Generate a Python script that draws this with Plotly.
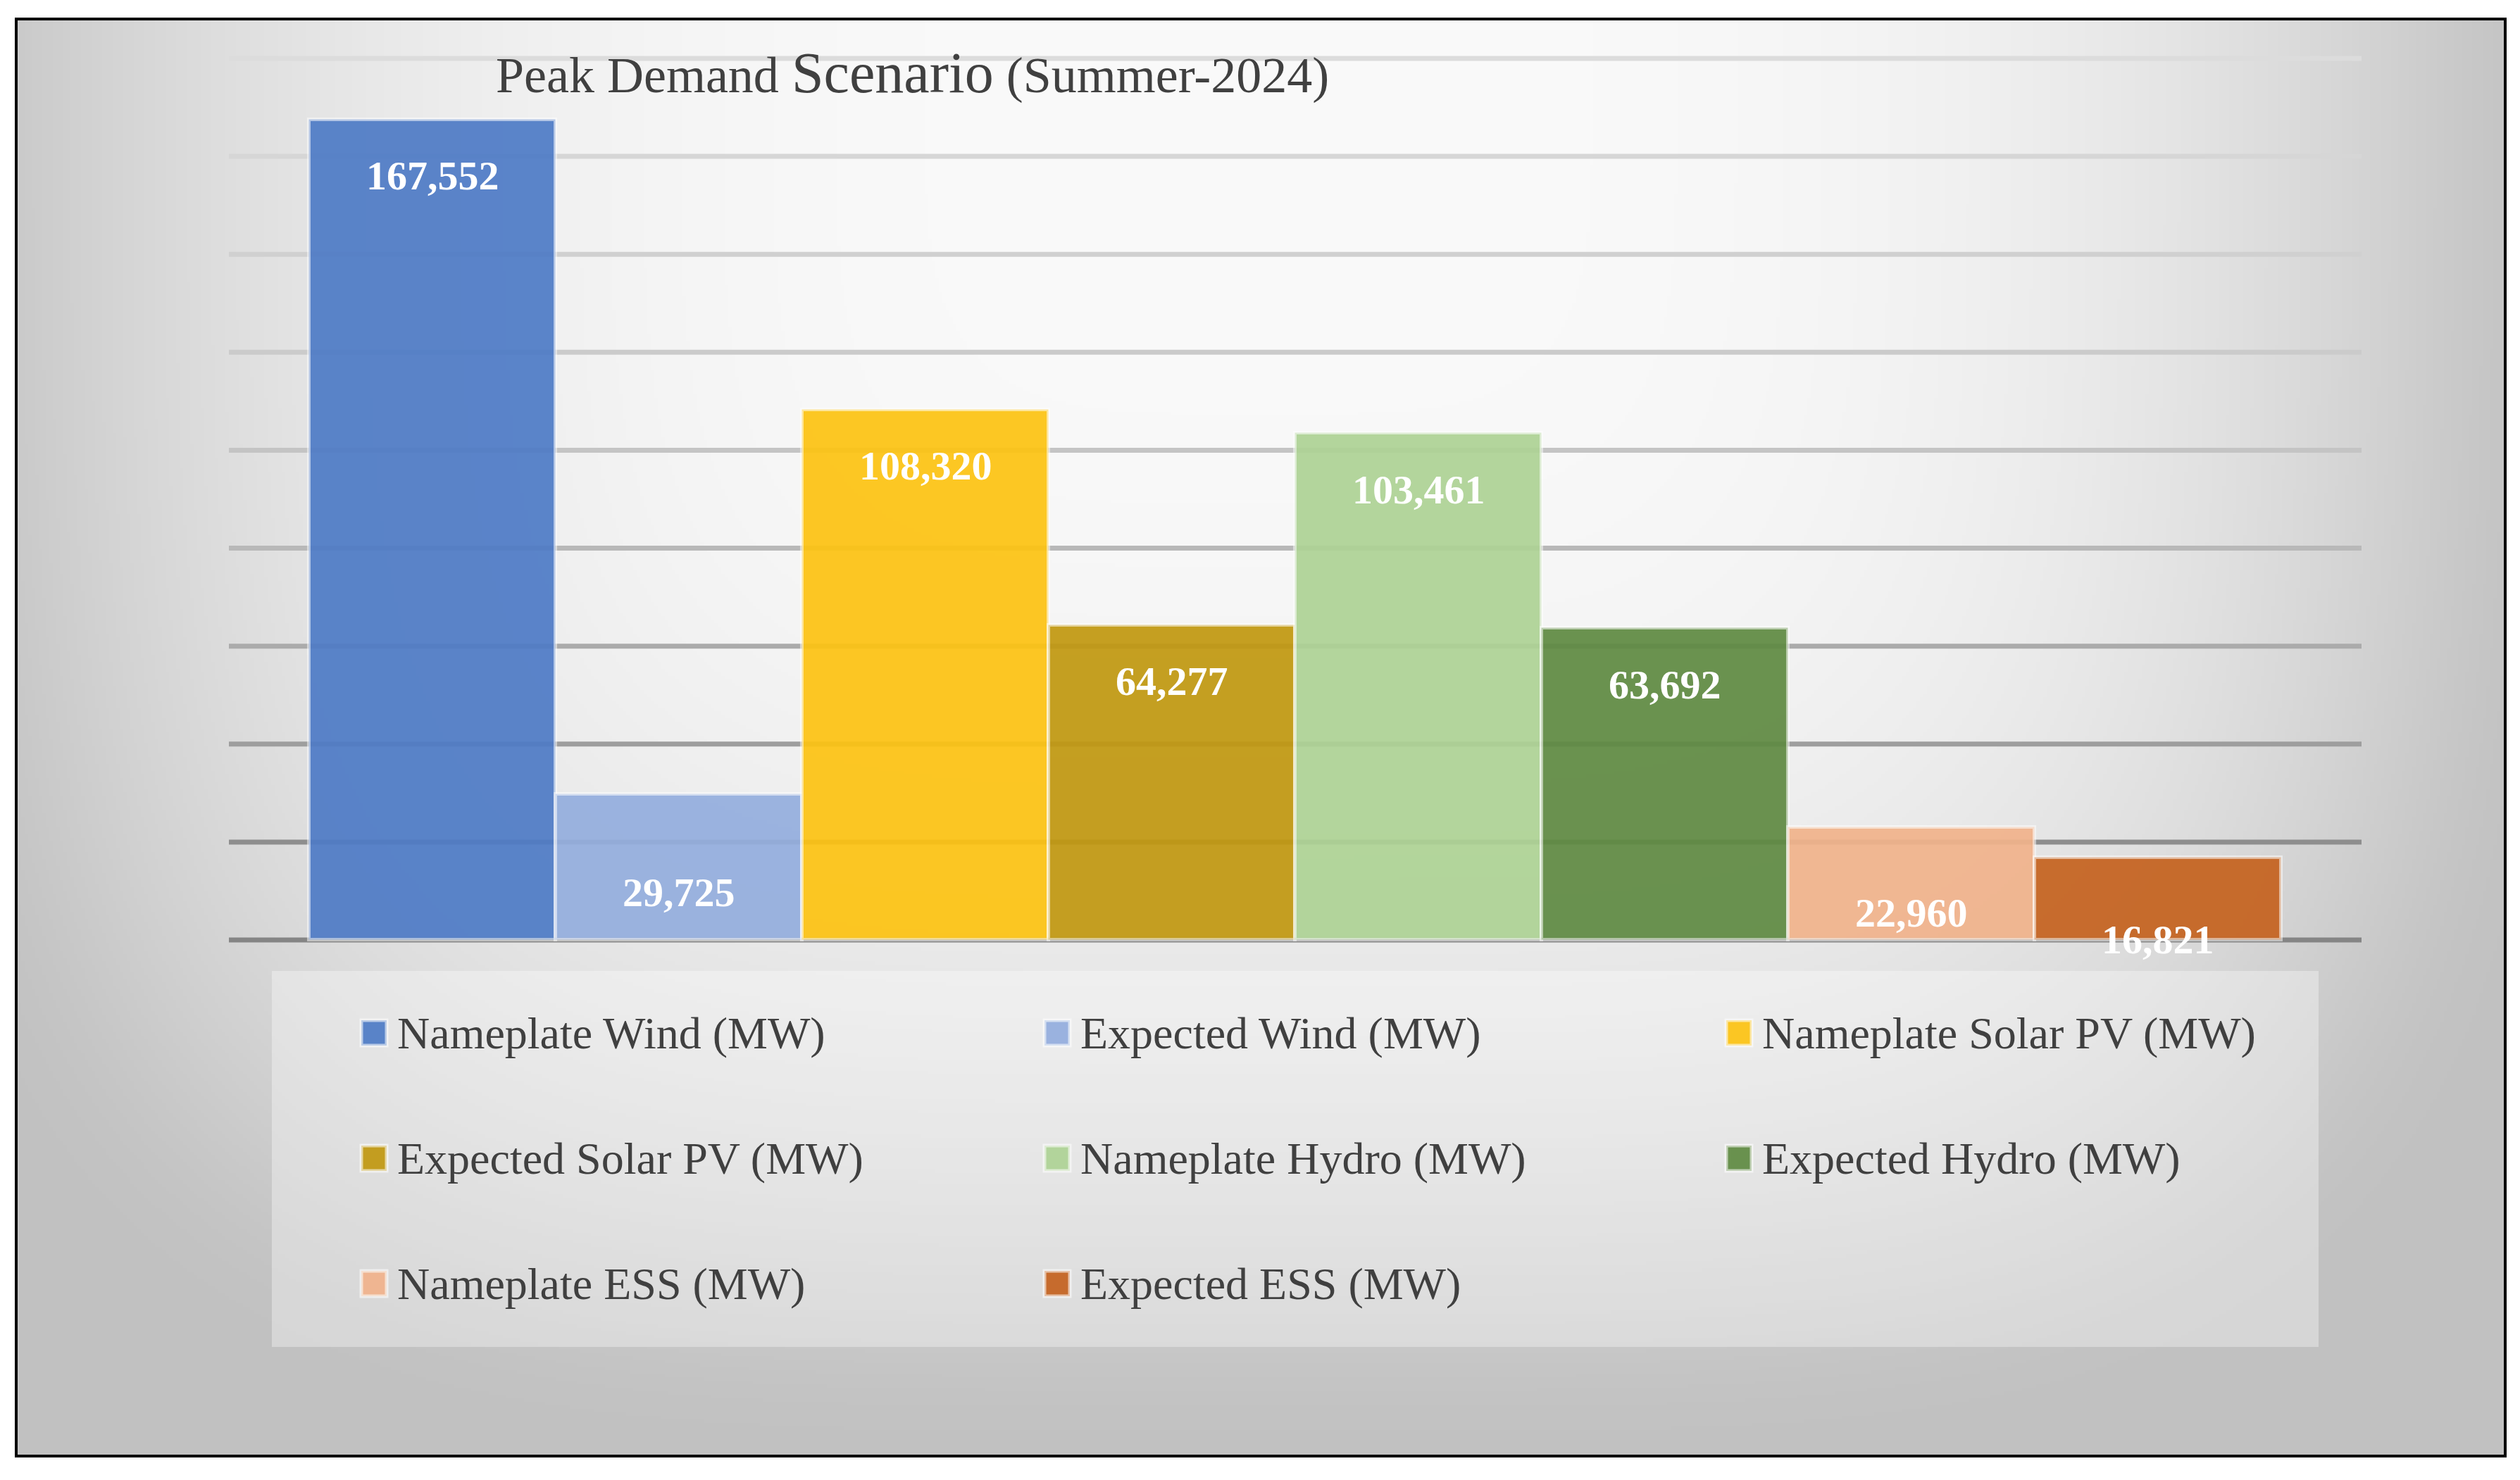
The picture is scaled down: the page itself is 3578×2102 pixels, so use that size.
import base64
import struct
import zlib

import numpy as np
import plotly.graph_objects as go

# ---------------- data ----------------
series = [
    "Nameplate Wind (MW)",
    "Expected Wind (MW)",
    "Nameplate Solar PV (MW)",
    "Expected Solar PV (MW)",
    "Nameplate Hydro (MW)",
    "Expected Hydro (MW)",
    "Nameplate ESS (MW)",
    "Expected ESS (MW)",
]
values = [167552, 29725, 108320, 64277, 103461, 63692, 22960, 16821]
grid_values = [0, 20000, 40000, 60000, 80000, 100000, 120000, 140000, 160000, 180000]
title_text = 'Peak Demand <span style="font-size:82px">Scenario</span> (Summer-2024)'

# ---------------- styles ----------------
colors = ["#4E7BC6", "#94AEDE", "#FDC312", "#C19810",
          "#AED395", "#5F8A42", "#F1B38B", "#C5621E"]
grid_greys = [133, 142, 158, 171, 184, 196, 203, 208, 214, 220]
label_drop_px = [80, 139, 80, 80, 80, 80, 121, 116]
FONT = "Liberation Serif"
TEXT_COLOR = "#404040"

W, H = 3578, 2102
OFF = 8  # page body margin: window px = figure px + OFF
PW, PH = 3028, 1266
L, T = 325 - OFF, 76 - OFF
R, B = W - L - PW, H - T - PH


def px_x(px):  # window pixel -> paper x
    return (px - OFF - L) / PW


def px_y(py):  # window pixel -> paper y
    return (T + PH - (py - OFF)) / PH


# ---------------- gradient background as PNG ----------------
def make_png(arr):
    h, w, _ = arr.shape
    raw = b"".join(b"\x00" + arr[i].tobytes() for i in range(h))

    def chunk(tag, data):
        c = struct.pack(">I", len(data)) + tag + data
        return c + struct.pack(">I", zlib.crc32(tag + data) & 0xFFFFFFFF)

    return (b"\x89PNG\r\n\x1a\n"
            + chunk(b"IHDR", struct.pack(">IIBBBBB", w, h, 8, 2, 0, 0, 0))
            + chunk(b"IDAT", zlib.compress(raw, 9))
            + chunk(b"IEND", b""))


BX0, BY0, BX1, BY1 = 23, 27, 3557, 2068
nw, nh = 708, 408
xs = np.linspace(BX0, BX1, nw)
ys = np.linspace(BY0, BY1, nh)
X, Y = np.meshgrid(xs, ys)
ax_ = np.where(X < 1800, 1850.0, 1750.0)
p = 4.0
t = (np.abs((X - 1800) / ax_) ** p + np.abs((Y - 100) / 1850) ** p) ** (1 / p)
v = 54 * t ** 3
k = 4.0
soft = -k * np.log(np.exp(-v / k) + np.exp(-57 / k))
c = np.clip(250 - soft, 0, 255).astype(np.uint8)
img = np.stack([c, c, c], axis=-1)
uri = "data:image/png;base64," + base64.b64encode(make_png(img)).decode()

# ---------------- figure ----------------
fig = go.Figure()

for name, val, col in zip(series, values, colors):
    fig.add_trace(go.Bar(
        x=[name], y=[val], name=name, width=1,
        marker=dict(color=col, opacity=0.92,
                    line=dict(color="rgba(255,255,255,0.55)", width=5)),
        showlegend=False, hoverinfo="x+y",
    ))

shapes = []
# gridlines
for gv, g in zip(grid_values, grid_greys):
    shapes.append(dict(type="line", xref="paper", yref="y", x0=0, x1=1, y0=gv, y1=gv,
                       line=dict(color=f"rgb({g},{g},{g})", width=7), layer="below"))

# legend box
shapes.append(dict(type="rect", xref="paper", yref="paper",
                   x0=px_x(386), x1=px_x(3292), y0=px_y(1913), y1=px_y(1379),
                   fillcolor="rgba(255,255,255,0.34)", line=dict(width=0), layer="below"))

# manual legend
col_sym_x = [531, 1501, 2469]
row_y = [1467, 1645, 1823]
annotations = []
for i, (name, col) in enumerate(zip(series, colors)):
    cx = col_sym_x[i % 3]
    cy = row_y[i // 3]
    shapes.append(dict(type="rect", xref="paper", yref="paper",
                       x0=px_x(cx - 18), x1=px_x(cx + 18), y0=px_y(cy + 18), y1=px_y(cy - 18),
                       fillcolor=col, opacity=0.92,
                       line=dict(color="rgba(255,255,255,0.6)", width=5), layer="above"))
    annotations.append(dict(xref="paper", yref="paper", x=px_x(cx + 31), y=px_y(cy),
                            xanchor="left", yanchor="middle", showarrow=False, text=name,
                            font=dict(family=FONT, size=64, color=TEXT_COLOR)))

# border
shapes.append(dict(type="rect", xref="paper", yref="paper",
                   x0=px_x(BX0), x1=px_x(BX1), y0=px_y(BY1), y1=px_y(BY0),
                   line=dict(color="black", width=4), fillcolor="rgba(0,0,0,0)", layer="above"))

# data labels
for name, val, drop in zip(series, values, label_drop_px):
    annotations.append(dict(x=name, y=val, xref="x", yref="y", text=f"<b>{val:,}</b>",
                            showarrow=False, yanchor="middle", xanchor="center", yshift=-drop,
                            font=dict(family=FONT, size=58, color="white")))

pad = (PW / 350 - 8) / 2
fig.update_layout(
    width=W, height=H,
    margin=dict(l=L, r=R, t=T, b=B, pad=0),
    paper_bgcolor="white", plot_bgcolor="rgba(0,0,0,0)",
    barmode="overlay", bargap=0,
    showlegend=False,
    title=dict(text=title_text, x=(704 - OFF) / W, xanchor="left", xref="container",
               y=1 - (106 - OFF) / H, yanchor="middle", yref="container",
               font=dict(family=FONT, size=72, color=TEXT_COLOR)),
    xaxis=dict(range=[-0.5 - pad, 7.5 + pad], showticklabels=False, showgrid=False,
               zeroline=False, showline=False, ticks=""),
    yaxis=dict(range=[-1000, 181000], showticklabels=False, showgrid=False,
               zeroline=False, showline=False, ticks=""),
    shapes=shapes,
    annotations=annotations,
    images=[dict(source=uri, xref="paper", yref="paper", x=px_x(BX0), y=px_y(BY0),
                 sizex=(BX1 - BX0) / PW, sizey=(BY1 - BY0) / PH,
                 xanchor="left", yanchor="top", sizing="stretch", layer="below")],
)

fig.write_html("out.html")
